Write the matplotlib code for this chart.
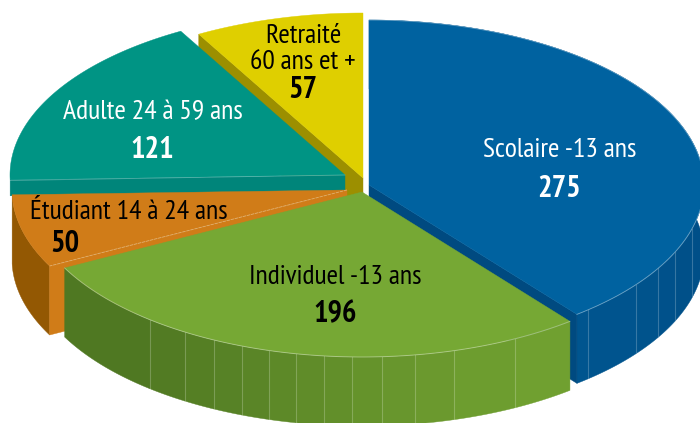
import numpy as np
import matplotlib
matplotlib.use("Agg")
import matplotlib.pyplot as plt
from matplotlib.patches import Polygon

# donnees
categories = ["Scolaire -13 ans", "Individuel -13 ans", "Étudiant 14 à 24 ans", "Adulte 24 à 59 ans", "Retraité\n60 ans et +"]
valeurs = [275, 196, 50, 121, 57]

plt.rcParams['font.family'] = ['PT Sans Narrow', 'Fira Sans Condensed', 'Liberation Sans', 'DejaVu Sans']

# geometrie en pixels de l'image
RX, RY, DEPTH = 335, 165, 69
W, H = 700, 423

fig = plt.figure(figsize=(7, 4.23), dpi=100)
ax = fig.add_axes([0, 0, 1, 1])
ax.set_xlim(0, W)
ax.set_ylim(H, 0)
ax.axis("off")

# angles cumules, dans le sens horaire a partir de midi
angles = 90 - np.cumsum([0] + valeurs) / sum(valeurs) * 360


def arc(apex, a1, a2, n=120):
    t = np.radians(np.linspace(a1, a2, n))
    return np.column_stack([apex[0] + RX * np.cos(t), apex[1] - RY * np.sin(t)])


def top(apex, a1, a2, color, z):
    pts = np.vstack([[apex], arc(apex, a1, a2)])
    ax.add_patch(Polygon(pts, closed=True, fc=color, ec=color, lw=0.3, zorder=z))


def cut(apex, a, color, z, depth=DEPTH):
    # face radiale du quartier
    end = arc(apex, a, a, 1)[0]
    pts = [apex, end, (end[0], end[1] + depth), (apex[0], apex[1] + depth)]
    ax.add_patch(Polygon(pts, closed=True, fc=color, ec=color, lw=0.3, zorder=z))


def wall(apex, a1, a2, color, z):
    up = arc(apex, a1, a2)
    down = up + [0, DEPTH]
    ax.add_patch(Polygon(np.vstack([up, down[::-1]]), closed=True, fc=color, ec=color, lw=0.3, zorder=z))


def wall_bands(apex, a1, a2, xs, c_left, c_right, z):
    # bandes verticales du bord, avec un filet clair entre chaque
    xs = np.array(xs, dtype=float)
    t = -np.degrees(np.arccos((xs - apex[0]) / RX))
    edges = np.concatenate([[a2], t[(t > a2) & (t < a1)], [a1]])
    c_left = np.array(matplotlib.colors.to_rgb(c_left))
    c_right = np.array(matplotlib.colors.to_rgb(c_right))
    for i in range(len(edges) - 1):
        f = i / max(len(edges) - 2, 1)
        wall(apex, edges[i], edges[i + 1], tuple(c_left + (c_right - c_left) * f), z)
    for a in edges[1:-1]:
        p = arc(apex, a, a, 1)[0]
        ax.plot([p[0], p[0]], [p[1], p[1] + DEPTH], color="white", alpha=0.22, lw=0.8, zorder=z + 0.1)
    ax.plot(*arc(apex, a1, a2).T, color="white", alpha=0.35, lw=0.7, zorder=z + 0.6)


apex_sco = (369, 185)
apex_ind = (362, 192)
apex_etu = (347, 190)
apex_adu = (345, 175)
apex_ret = (363, 178)

# Retraite
cut(apex_ret, angles[4], "#9c8f00", 1)
top(apex_ret, angles[4], angles[5], "#dfcf00", 1.5)

# Adulte
cut(apex_adu, angles[3], "#00857a", 2, depth=16)
ax.plot([10, 345], [180.5, 175], color="white", alpha=0.3, lw=0.6, zorder=2.9)
top(apex_adu, angles[3], angles[4], "#009484", 2.5)

# Etudiant
wall(apex_etu, angles[2], angles[3], "#935803", 3)
cut(apex_etu, angles[2], "#d07c18", 3.2)
top(apex_etu, angles[2], angles[3], "#d07c18", 3.5)
p = arc(apex_etu, angles[2], angles[2], 1)[0]
ax.plot([apex_etu[0], p[0]], [apex_etu[1], p[1]], color="#e0b070", lw=0.6, ls=(0, (4, 1)), zorder=3.6)

# Scolaire
wall_bands(apex_sco, angles[0], angles[1], [588, 636, 658, 675, 692], "#00558f", "#004f88", 4)
cut(apex_sco, angles[1], "#004a80", 4.2)
top(apex_sco, angles[0], angles[1], "#0062a0", 4.5)

# Individuel
wall_bands(apex_ind, angles[1], angles[2],
           [150, 185, 214, 242, 269, 296, 324, 352, 382, 415, 454, 515],
           "#4f7822", "#70a030", 5)
top(apex_ind, angles[1], angles[2], "#76a834", 5.5)

# etiquettes
fs = 20
positions = [(560, 150), (335, 277), (129, 212), (153, 112), (303, 49)]
pos_val = [(559, 189), (335, 314), (65, 244), (152, 150), (303, 90)]
couleurs = ["white", "black", "black", "white", "black"]
for nom, val, p, q, c in zip(categories, valeurs, positions, pos_val, couleurs):
    ax.text(p[0], p[1], nom, ha="center", va="center", fontsize=fs, color=c, zorder=10, linespacing=1.1)
    ax.text(q[0], q[1], str(val), ha="center", va="center", fontsize=fs + 2, fontweight="bold", color=c, zorder=10)

fig.savefig("out.png", dpi=100)
